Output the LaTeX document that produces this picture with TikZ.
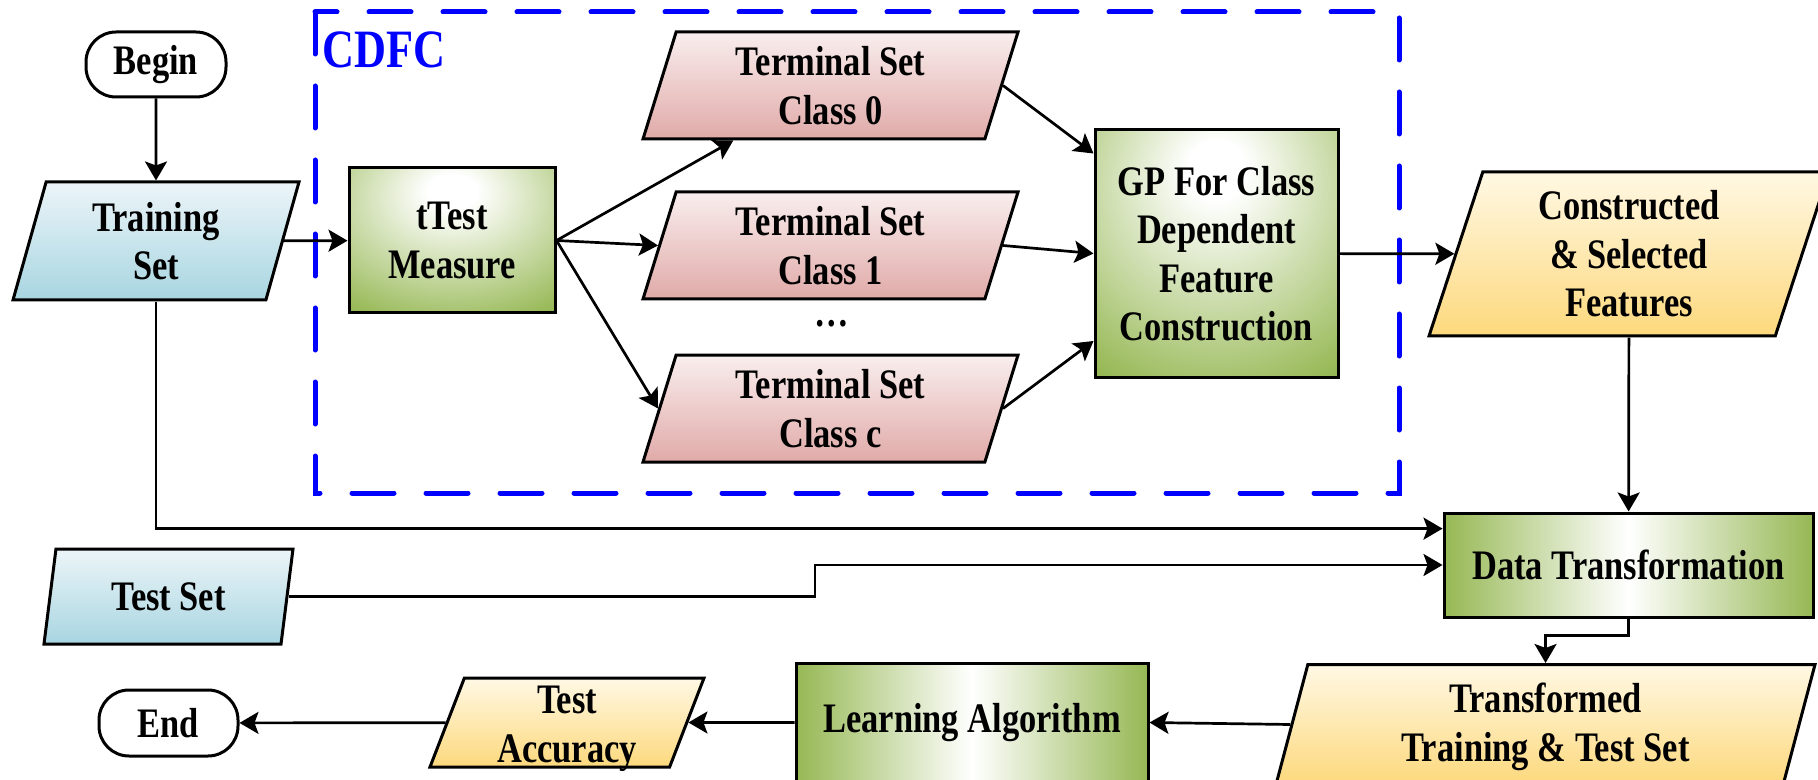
\documentclass[tikz,border=0pt]{standalone}
\usepackage{fontspec}
\setmainfont[FakeStretch=0.82]{Liberation Serif}
\usepackage{xcolor}
\usetikzlibrary{arrows.meta,shapes.geometric,calc}
\definecolor{tgreen}{RGB}{150,184,84}
\definecolor{bluetop}{RGB}{236,245,248}
\definecolor{bluebot}{RGB}{168,213,225}
\definecolor{pinktop}{RGB}{249,238,238}
\definecolor{pinkbot}{RGB}{224,170,168}
\definecolor{goldtop}{RGB}{255,248,228}
\definecolor{goldbot}{RGB}{253,217,125}
\pgfdeclareradialshading{greenglow}{\pgfpoint{0bp}{18bp}}{color(0bp)=(white); color(6bp)=(white); color(42bp)=(tgreen); color(100bp)=(tgreen)}

\begin{document}
\begin{tikzpicture}[x = 0.5pt, y = -0.5pt, >={Stealth[length=9.5pt, width=11pt, inset=2pt]},
  every node/.style = {font = {\fontsize{21pt}{24.25pt}\selectfont\bfseries}, align = center, inner sep = 0pt, line width = 1.5pt},
  link/.style = {->, line width = 1.35pt},
  startstop/.style = {draw, rounded corners = 15pt, minimum width = 70pt, minimum height = 32.5pt},
  io/.style = {draw, trapezium, trapezium left angle = 67, trapezium right angle = 113, trapezium stretches body},
  bluedata/.style = {io, top color = bluetop, bottom color = bluebot},
  pinkdata/.style = {io, top color = pinktop, bottom color = pinkbot, minimum width = 187.5pt, minimum height = 53.5pt},
  golddata/.style = {io, top color = goldtop, bottom color = goldbot},
  glowbox/.style = {draw, shade, shading = greenglow},
  bandbox/.style = {draw, left color = tgreen, right color = tgreen, middle color = white}]
\path[use as bounding box, clip] (0,0) rectangle (1818,780);

\draw[blue, line width = 2.5pt, dash pattern = on 21pt off 16pt, line cap = round] (315,12) rectangle (1399,493);
\node[blue, anchor = base west, font = {\fontsize{27pt}{30pt}\selectfont\bfseries}] (cdfc) at (321,68) {CDFC};

\node[startstop] (begin) at (156,64.5) {Begin};
\node[bluedata, minimum width = 143pt, minimum height = 59pt] (train) at (156,241) {Training\\Set};
\node[glowbox, minimum width = 103pt, minimum height = 72.5pt] (ttest) at (452,240.5) {tTest\\Measure};
\node[pinkdata] (c0) at (830.5,85.5) {Terminal Set\\Class 0};
\node[pinkdata] (c1) at (830.5,245.5) {Terminal Set\\Class 1};
\node[anchor = base] (dots) at (832,327) {\ldots};
\node[pinkdata] (cc) at (830.5,408.5) {Terminal Set\\Class c};
\node[glowbox, minimum width = 121.5pt, minimum height = 123.5pt] (gp) at (1216.5,253.5) {GP For Class\\Dependent\\Feature\\Construction};
\node[golddata, minimum width = 200pt, minimum height = 82pt] (cons) at (1629,254) {Constructed\\\& Selected\\Features};
\node[bandbox, minimum width = 184.5pt, minimum height = 52pt] (dt) at (1628.5,565) {Data Transformation};
\node[bluedata, minimum width = 124.5pt, minimum height = 47.5pt] (test) at (168.5,596.5) {Test Set};
\node[golddata, minimum width = 269.5pt, minimum height = 60pt, text height = 37pt, text depth = 0.5pt] (trans) at (1545.5,724.5) {Transformed\\Training \& Test Set};
\node[bandbox, minimum width = 176pt, minimum height = 59pt] (learn) at (972,722.5) {Learning Algorithm};
\node[golddata, minimum width = 137pt, minimum height = 44.5pt, text height = 40pt, text depth = 0.5pt] (acc) at (567,722.5) {Test\\Accuracy};
\node[startstop, minimum width = 69.5pt, minimum height = 33pt] (end) at (168.5,723) {End};

\draw[link] (begin) -- (train);
\draw[link] (train) -- (ttest);
\draw[link] (ttest.east) -- (c0);
\draw[link] (ttest.east) -- (c1.west);
\draw[link] (ttest.east) -- (cc.west);
\draw[link] (c0.east) -- ($(gp.north west)!0.1!(gp.south west)$);
\draw[link] (c1.east) -- (gp.west);
\draw[link] (cc.east) -- ($(gp.north west)!0.85!(gp.south west)$);
\draw[link] (gp) -- (cons);
\draw[link] (cons) -- (dt);
\draw[link] (train.south) |- ($(dt.north west)!0.16!(dt.south west)$);
\coordinate (jog) at (815,565);
\draw[link] (test.east) -| (jog) -- (dt.west);
\draw[link] (dt.south) -- ++(0,17) -| (trans.north);
\draw[link] (trans.west) -- (learn.east);
\draw[link] (learn) -- (acc);
\draw[link] (acc) -- (end);
\end{tikzpicture}
\end{document}
